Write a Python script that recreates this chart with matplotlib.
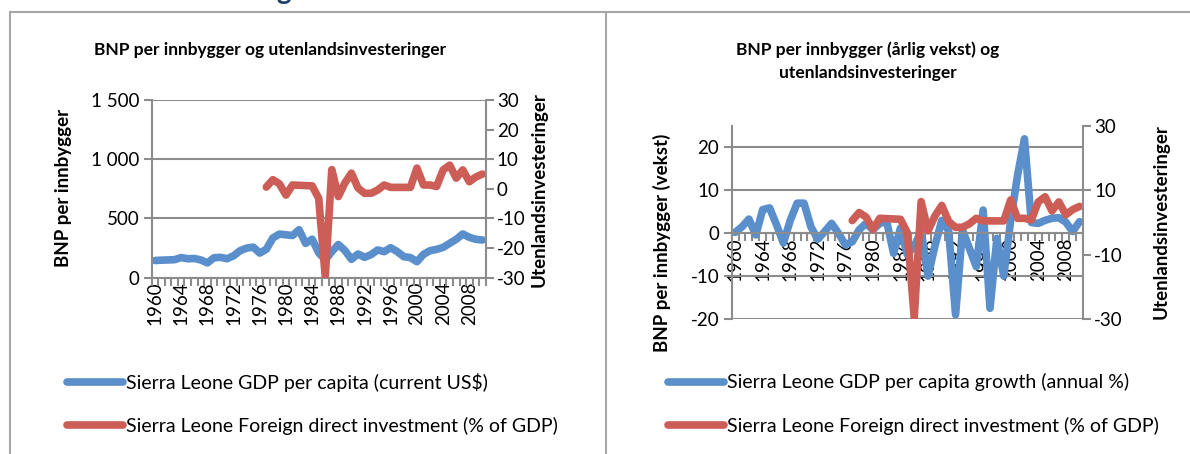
import numpy as np
import matplotlib
matplotlib.use('Agg')
import matplotlib.pyplot as plt
from matplotlib.lines import Line2D
from matplotlib.ticker import FuncFormatter

plt.rcParams['font.family'] = ['Lato', 'DejaVu Sans']
plt.rcParams['axes.unicode_minus'] = False

years = list(range(1960, 2011))
gdp_per_capita = [145, 148, 150, 152, 170, 160, 162, 150, 125, 168,
                  172, 160, 185, 228, 250, 258, 208, 240, 335, 368,
                  362, 356, 405, 290, 325, 210, 150, 220, 280, 230,
                  155, 200, 172, 195, 234, 220, 253, 220, 177, 170,
                  135, 197, 228, 239, 256, 290, 324, 369, 341, 324,
                  318]
gdp_growth = [0.2, 1.5, 3.3, -0.4, 5.5, 5.9, 2.0, -2.3, 3.0, 7.0,
              7.0, 1.5, -1.4, 0.4, 2.3, 0.0, -2.7, -2.0, 0.8, 2.3,
              0.8, 2.3, 2.7, -4.7, 1.2, -5.0, -3.0, 0.5, -10.0, -3.0,
              3.0, 0.5, -19.0, 0.8, -3.5, -7.8, 5.4, -17.5, -1.2, -10.0,
              3.0, 13.5, 22.0, 2.5, 2.3, 3.0, 3.5, 3.6, 2.6, 0.4,
              2.7]
fdi_years = list(range(1977, 2011))
fdi = [0.6, 3.1, 1.7, -2.1, 1.3, 1.2, 1.1, 1.0, -3.2, -29.5,
       6.5, -2.6, 2.0, 5.3, 0.3, -1.5, -1.5, -0.4, 1.3, 0.5,
       0.5, 0.5, 0.5, 7.0, 1.3, 1.3, 0.8, 6.4, 8.0, 3.6,
       6.4, 2.4, 4.0, 5.0]

label_years = list(range(1960, 2009, 4))

BLUE = '#5A8FCB'
RED = '#CC5E57'
GRID = '#8C8C8C'
W, H = 1190, 454
TICK_FS = 13.5
LEG_FS = 14
TITLE_FS = 12.5
YLAB_FS = 13.5

fig = plt.figure(figsize=(W / 100, H / 100), dpi=100)


def rect(x0, y0, x1, y1):
    return [x0 / W, 1 - y1 / H, (x1 - x0) / W, (y1 - y0) / H]


def style_axes(ax, axb):
    ax.set_xlim(1959.5, 2010.5)
    ax.set_xticks(label_years)
    ax.set_xticklabels([str(y) for y in label_years], rotation=90)
    ax.set_xticks(np.arange(1959.5, 2011, 1), minor=True)
    ax.tick_params(axis='x', which='major', length=0, pad=3, labelsize=TICK_FS)
    ax.tick_params(axis='x', which='minor', length=6, width=1.5, color=GRID, direction='out')
    ax.tick_params(axis='y', length=6, width=1.5, color=GRID, labelsize=TICK_FS, pad=3)
    ax.yaxis.grid(True, color=GRID, lw=1.5)
    ax.set_axisbelow(True)
    for s in ['top', 'right']:
        ax.spines[s].set_visible(False)
    for s in ['left', 'bottom']:
        ax.spines[s].set_color(GRID)
        ax.spines[s].set_linewidth(1.5)
    axb.set_ylim(-30, 30)
    for s in ['top', 'left', 'bottom']:
        axb.spines[s].set_visible(False)
    axb.spines['right'].set_color(GRID)
    axb.spines['right'].set_linewidth(1.5)
    axb.tick_params(axis='y', length=6, width=1.5, color=GRID, labelsize=TICK_FS, pad=2)


line_kw = dict(lw=5.5, solid_joinstyle='round', solid_capstyle='round')
leg_kw = dict(loc='center left', bbox_transform=fig.transFigure, frameon=False,
              fontsize=LEG_FS, handlelength=2.9, handletextpad=0.15,
              labelspacing=1.3, borderpad=0, borderaxespad=0)

# left chart
ax1 = fig.add_axes(rect(151.7, 100, 485.7, 277.7))
l1, = ax1.plot(years, gdp_per_capita, color=BLUE, label='Sierra Leone GDP per capita (current US$)', **line_kw)
ax1.set_ylim(0, 1500)
ax1.set_yticks([0, 500, 1000, 1500])
ax1.yaxis.set_major_formatter(FuncFormatter(lambda v, p: f'{int(v):,}'.replace(',', ' ')))
ax1b = ax1.twinx()
r1, = ax1b.plot(fdi_years, fdi, color=RED, label='Sierra Leone Foreign direct investment (% of GDP)', **line_kw)
style_axes(ax1, ax1b)
ax1b.set_yticks(range(-30, 31, 10))

fig.text(270 / W, 1 - 50 / H, 'BNP per innbygger og utenlandsinvesteringer',
         ha='center', va='center', fontsize=TITLE_FS, fontweight='bold')
fig.text(63 / W, 1 - 188 / H, 'BNP per innbygger', rotation=90,
         ha='center', va='center', fontsize=YLAB_FS, fontweight='bold')
fig.text(539 / W, 1 - 190 / H, 'Utenlandsinvesteringer', rotation=90,
         ha='center', va='center', fontsize=YLAB_FS, fontweight='bold')
ax1.legend(handles=[l1, r1], bbox_to_anchor=(67 / W, 1 - 404 / H), **leg_kw)

# right chart
ax2 = fig.add_axes(rect(731.7, 126, 1083, 319))
l2, = ax2.plot(years, gdp_growth, color=BLUE, label='Sierra Leone GDP per capita growth (annual %)', **line_kw)
ax2.set_ylim(-20, 25)
ax2.set_yticks([-20, -10, 0, 10, 20])
ax2.spines['bottom'].set_position(('data', 0))
ax2b = ax2.twinx()
r2, = ax2b.plot(fdi_years, fdi, color=RED, label='Sierra Leone Foreign direct investment (% of GDP)', **line_kw)
style_axes(ax2, ax2b)
ax2b.set_yticks([-30, -10, 10, 30])

fig.text(868 / W, 1 - 50 / H, 'BNP per innbygger (årlig vekst) og',
         ha='center', va='center', fontsize=TITLE_FS, fontweight='bold')
fig.text(868 / W, 1 - 73 / H, 'utenlandsinvesteringer',
         ha='center', va='center', fontsize=TITLE_FS, fontweight='bold')
fig.text(662 / W, 1 - 243 / H, 'BNP per innbygger (vekst)', rotation=90,
         ha='center', va='center', fontsize=YLAB_FS, fontweight='bold')
fig.text(1161 / W, 1 - 222 / H, 'Utenlandsinvesteringer', rotation=90,
         ha='center', va='center', fontsize=YLAB_FS, fontweight='bold')
ax2.legend(handles=[l2, r2], bbox_to_anchor=(668 / W, 1 - 404 / H), **leg_kw)

# page frame and cut-off heading
frame = dict(color='#A6A6A6', lw=1.5, transform=fig.transFigure)
fig.add_artist(Line2D([10 / W, 1], [1 - 12 / H, 1 - 12 / H], **frame))
fig.add_artist(Line2D([10 / W, 10 / W], [0, 1 - 12 / H], **frame))
fig.add_artist(Line2D([606 / W, 606 / W], [0, 1 - 12 / H], **frame))
fig.text(284 / W, 1 + 1 / H, 'g', fontsize=20, fontweight='bold', color='#1F3F6E',
         ha='center', va='baseline')

fig.savefig('out.png', dpi=100)
